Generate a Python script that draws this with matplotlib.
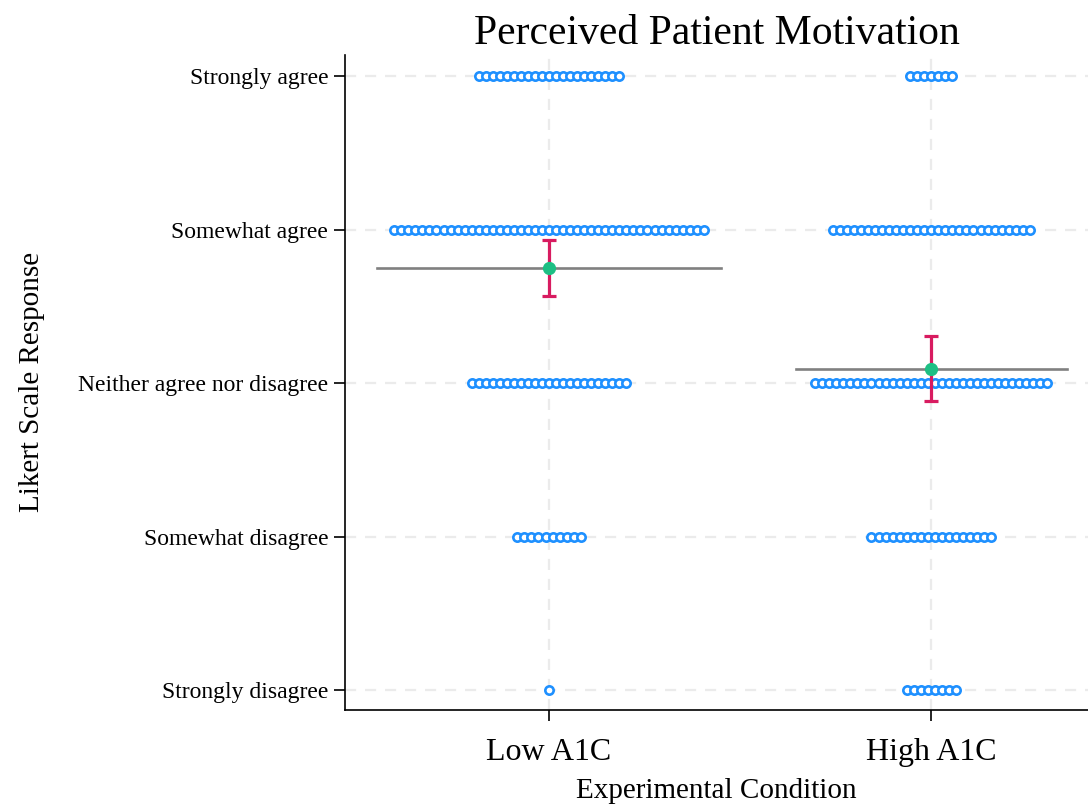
import numpy as np
import matplotlib.pyplot as plt

plt.rcParams['font.family'] = ['Liberation Serif', 'DejaVu Serif']

# Likert levels (1 = strongly disagree ... 5 = strongly agree)
levels = [1, 2, 3, 4, 5]
level_labels = ["Strongly disagree", "Somewhat disagree", "Neither agree nor disagree",
                "Somewhat agree", "Strongly agree"]
conditions = ["Low A1C", "High A1C"]

# number of responses per level, ordered as in `levels`
low_counts = [1, 10, 23, 45, 21]
high_counts = [8, 18, 34, 29, 7]

# half-width of the grey reference line at each group mean
line_halfwidth = [0.45, 0.355]

dot_step = 0.0184
dot_color = "#1E90FF"
ci_color = "#D81B60"
mean_color = "#1DBF84"

fig = plt.figure(figsize=(10.88, 8.05), dpi=100)
ax = fig.add_axes([0.317, 0.118, 0.683, 0.814])

for xi, counts in enumerate([low_counts, high_counts], start=1):
    # stacked dots centred on the condition
    for lvl, n in zip(levels, counts):
        xs = xi + (np.arange(n) - (n - 1) / 2) * dot_step
        ax.scatter(xs, np.full(n, lvl), s=36, facecolor="white", edgecolor=dot_color,
                   linewidth=1.9, zorder=3)

    vals = np.repeat(levels, counts)
    mean = vals.mean()
    ci = 1.96 * vals.std(ddof=1) / np.sqrt(len(vals))
    hw = line_halfwidth[xi - 1]
    ax.plot([xi - hw, xi + hw], [mean, mean], color="#808080", lw=1.9, zorder=2)
    ax.errorbar(xi, mean, yerr=ci, fmt="none", ecolor=ci_color, elinewidth=2.3,
                capsize=5, capthick=2.3, zorder=4)
    ax.plot(xi, mean, "o", color=mean_color, ms=8.5, zorder=5)

ax.set_xlim(0.466, 2.41)
ax.set_ylim(0.87, 5.14)
ax.set_xticks([1, 2])
ax.set_xticklabels(conditions, fontsize=23)
ax.set_yticks(levels)
ax.set_yticklabels(level_labels, fontsize=17)

ax.grid(True, color="#ebebeb", linestyle=(0, (5, 4)), linewidth=1.6)
ax.set_axisbelow(True)
for side in ["top", "right"]:
    ax.spines[side].set_visible(False)
for side in ["left", "bottom"]:
    ax.spines[side].set_linewidth(1.2)
ax.tick_params(axis="both", length=8, width=1.2, color="black")
ax.tick_params(axis="y", pad=4)
ax.tick_params(axis="x", pad=12)

ax.set_title("Perceived Patient Motivation", fontsize=30, pad=8)
ax.set_xlabel("Experimental Condition", fontsize=21, labelpad=8)
ax.set_ylabel("Likert Scale Response", fontsize=21, labelpad=24)

fig.savefig("out.png", dpi=100)
